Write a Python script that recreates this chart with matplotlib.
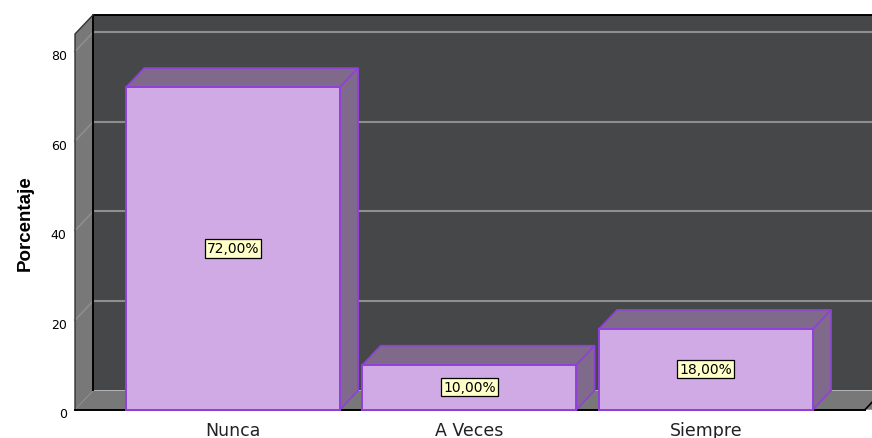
import matplotlib
matplotlib.use("Agg")
import matplotlib.pyplot as plt
from matplotlib.patches import Polygon
import matplotlib.transforms as mtransforms

categories = ["Nunca", "A Veces", "Siempre"]
values = [72.0, 10.0, 18.0]
yticks = [0, 20, 40, 60, 80]

# styling
front_col = "#d0aae4"
shade_col = "#806a8c"
edge_col = "#9040d8"
wall_col = "#464749"
side_col = "#787878"
grid_col = "#8e8e8e"

fig = plt.figure(figsize=(8.72, 4.39), dpi=100)
ax = fig.add_axes([75/872, 28.3/439, 790/872, 375.7/439])
xmin, xmax = -0.668, 2.673
ymin, ymax = 0, 83.9
ax.set_xlim(xmin, xmax)
ax.set_ylim(ymin, ymax)
for s in ax.spines.values():
    s.set_visible(False)
ax.set_facecolor("none")

dx, dy = 0.077, 4.3   # depth offset in data units
bw = 0.905

def poly(pts, fc, ec="none", lw=0, z=1):
    p = Polygon(pts, closed=True, facecolor=fc, edgecolor=ec, linewidth=lw,
                clip_on=False, zorder=z, joinstyle="miter")
    ax.add_patch(p)

# back wall
poly([(xmin+dx, ymin+dy), (xmax+dx+0.2, ymin+dy), (xmax+dx+0.2, ymax+dy), (xmin+dx, ymax+dy)], wall_col, z=1)
# left side wall
poly([(xmin, ymin), (xmin+dx, ymin+dy), (xmin+dx, ymax+dy), (xmin, ymax)], side_col, z=2)
# floor
poly([(xmin, ymin), (xmax, ymin), (xmax+dx, ymin+dy), (xmax+dx+0.2, ymin+dy), (xmax+0.2, ymin), (xmin, ymin)], side_col, z=2)
poly([(xmin, ymin), (xmax, ymin), (xmax+dx, ymin+dy), (xmin+dx, ymin+dy)], side_col, z=2)

# gridlines on back wall and side wall
for t in yticks[1:]:
    ax.plot([xmin+dx, xmax+dx+0.2], [t+dy, t+dy], color=grid_col, lw=1.5, zorder=3, clip_on=False)
    ax.plot([xmin, xmin+dx], [t, t+dy], color=grid_col, lw=1.2, zorder=3, clip_on=False)

# outlines of walls
ax.plot([xmin+dx, xmin+dx, xmax+dx+0.2], [ymin+dy, ymax+dy, ymax+dy], color="black", lw=1.4, zorder=4, clip_on=False)
ax.plot([xmin, xmin, xmin+dx], [ymin, ymax, ymax+dy], color="#333333", lw=1.0, zorder=4, clip_on=False)
ax.plot([xmin, xmax], [ymin, ymin], color="black", lw=1.4, zorder=4, clip_on=False)
ax.plot([xmax, xmax+dx], [ymin, ymin+dy], color="black", lw=1.2, zorder=4, clip_on=False)

# bars
for i, v in enumerate(values):
    x0, x1 = i - bw/2, i + bw/2
    # top
    poly([(x0, v), (x1, v), (x1+dx, v+dy), (x0+dx, v+dy)], shade_col, edge_col, 1.2, z=5)
    # side
    poly([(x1, 0), (x1+dx, dy), (x1+dx, v+dy), (x1, v)], shade_col, edge_col, 1.2, z=5)
    # front
    poly([(x0, 0), (x1, 0), (x1, v), (x0, v)], front_col, edge_col, 1.4, z=6)
    lab = f"{v:.2f}%".replace(".", ",")
    ax.text(i, v/2, lab, ha="center", va="center", fontsize=10, family="DejaVu Sans",
            zorder=8, bbox=dict(boxstyle="square,pad=0.15", fc="#ffffc8", ec="black", lw=0.9))

ax.set_yticks(yticks)
ax.set_yticklabels([str(t) for t in yticks], fontsize=9, family="DejaVu Sans")
ax.set_xticks(range(len(categories)))
ax.set_xticklabels(categories, fontsize=12.5, family="DejaVu Sans", color="#222222")
ax.tick_params(axis="y", length=0, pad=6)
ax.tick_params(axis="x", length=0, pad=8)
shift = mtransforms.ScaledTranslation(0, -2.5/100, fig.dpi_scale_trans)
for lbl in ax.get_yticklabels():
    lbl.set_transform(lbl.get_transform() + shift)
ax.set_ylabel("Porcentaje", fontsize=13.5, fontweight="bold", family="Liberation Sans", labelpad=12)

fig.savefig("out.png", dpi=100)
